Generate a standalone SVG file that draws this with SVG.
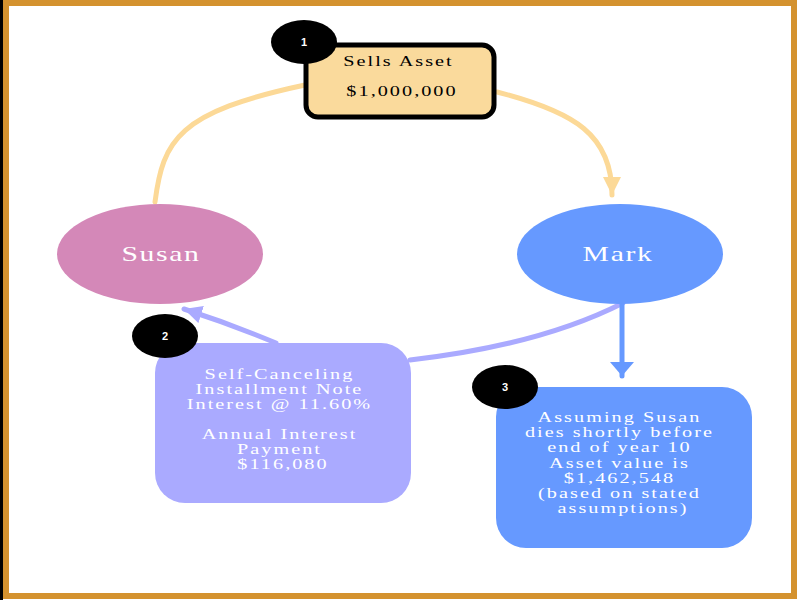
<svg xmlns="http://www.w3.org/2000/svg" width="800" height="600" viewBox="0 0 800 600">
<defs>
<style>
.t{font-family:"Liberation Serif","Times New Roman",serif;text-anchor:middle}
.box{font-size:15px;letter-spacing:1.5px}
.white{fill:#ffffff}
.big{font-size:22px;letter-spacing:1.2px;fill:#ffffff}
.badge{fill:#000000}
.num{font-family:"Liberation Sans",Arial,sans-serif;font-weight:bold;font-size:11px;fill:#ffffff;text-anchor:middle}
.conn{fill:none;stroke-width:5;stroke-linecap:round}
</style>
<marker id="aO" markerUnits="userSpaceOnUse" markerWidth="22" markerHeight="20" refX="18" refY="9" orient="auto"><path d="M0,0 L18,9 L0,18 Z" fill="#FCD997"/></marker>
<marker id="aL" markerUnits="userSpaceOnUse" markerWidth="22" markerHeight="20" refX="18" refY="9" orient="auto"><path d="M0,0 L18,9 L0,18 Z" fill="#AAAAFF"/></marker>
<marker id="aB" markerUnits="userSpaceOnUse" markerWidth="24" markerHeight="24" refX="14" refY="12" orient="auto"><path d="M0,0 L14,12 L0,24 Z" fill="#6699FF"/></marker>
</defs>
<rect x="0" y="0" width="800" height="600" fill="#ffffff"/>
<rect x="0" y="0" width="3" height="600" fill="#000000"/>
<rect x="6" y="3" width="788" height="593" fill="none" stroke="#D4922F" stroke-width="6"/>

<g id="connectors">
<path class="conn" stroke="#FCD997" d="M155,202 C163,140 178,112 305,85"/>
<path class="conn" stroke="#FCD997" d="M497,92 C575,112 612,135 612,195" marker-end="url(#aO)"/>
<path class="conn" stroke="#AAAAFF" d="M623,303 C560,335 480,352 410,360"/>
<path class="conn" stroke="#AAAAFF" d="M276,343 C240,328 212,318 184,309" marker-end="url(#aL)"/>
<path class="conn" stroke="#6699FF" d="M622,304 L622,376" marker-end="url(#aB)"/>
</g>

<g id="sells">
<rect x="306" y="45" width="188" height="72" rx="12" fill="#FADA9C" stroke="#000000" stroke-width="5"/>
<text class="t box" transform="translate(402,0) scale(1.35,1)">
<tspan x="0" y="66">Sells Asset</tspan>
<tspan x="0" y="96">$1,000,000</tspan>
</text>
</g>
<g id="badge1">
<ellipse class="badge" cx="304" cy="42" rx="33" ry="22"/>
<text class="num" x="304" y="46">1</text>
</g>

<g id="susan">
<ellipse cx="160" cy="254" rx="103" ry="50" fill="#D488B8"/>
<text class="t big" transform="translate(161,261) scale(1.35,1)" x="0" y="0">Susan</text>
</g>

<g id="mark">
<ellipse cx="620" cy="254" rx="103" ry="50" fill="#6699FF"/>
<text class="t big" transform="translate(618,261) scale(1.35,1)" x="0" y="0">Mark</text>
</g>

<g id="note">
<rect x="155" y="343" width="256" height="160" rx="30" fill="#AAAAFF"/>
<text class="t box white" transform="translate(283,0) scale(1.35,1)">
<tspan x="0" y="379">Self-Canceling</tspan>
<tspan x="0" y="394">Installment Note</tspan>
<tspan x="0" y="409">Interest @ 11.60%</tspan>
<tspan x="0" y="439">Annual Interest</tspan>
<tspan x="0" y="454">Payment</tspan>
<tspan x="0" y="469">$116,080</tspan>
</text>
</g>
<g id="badge2">
<ellipse class="badge" cx="165" cy="336" rx="33" ry="22"/>
<text class="num" x="165" y="340">2</text>
</g>

<g id="asset">
<rect x="496" y="387" width="256" height="161" rx="30" fill="#6699FF"/>
<text class="t box white" transform="translate(623,0) scale(1.35,1)">
<tspan x="0" y="422">Assuming Susan</tspan>
<tspan x="0" y="437">dies shortly before</tspan>
<tspan x="0" y="452">end of year 10</tspan>
<tspan x="0" y="468">Asset value is</tspan>
<tspan x="0" y="483">$1,462,548</tspan>
<tspan x="0" y="498">(based on stated</tspan>
<tspan x="0" y="513">assumptions)</tspan>
</text>
</g>
<g id="badge3">
<ellipse class="badge" cx="505" cy="387" rx="33" ry="22"/>
<text class="num" x="505" y="391">3</text>
</g>
</svg>
